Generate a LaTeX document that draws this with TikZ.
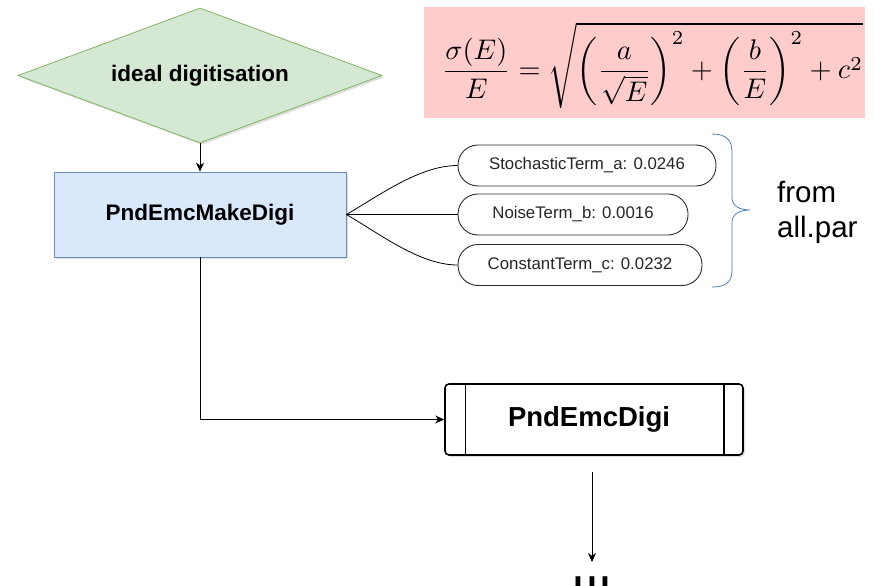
\documentclass[tikz,border=0pt]{standalone}
\usepackage[no-math]{fontspec}
\usepackage{graphicx}
\usepackage{amsmath}
\newfontfamily\lsans{Liberation Sans}
\usetikzlibrary{shapes.geometric,arrows.meta,shadows}
\definecolor{greenfill}{HTML}{D5E8D4}
\definecolor{greenline}{HTML}{82B366}
\definecolor{bluefill}{HTML}{DAE8FC}
\definecolor{blueline}{HTML}{6C8EBF}
\definecolor{pinkfill}{HTML}{FFCCCC}
\definecolor{bracec}{HTML}{4A7EBB}
\definecolor{pillline}{HTML}{2B2B2B}
\begin{document}
\begin{tikzpicture}[x=1pt,y=-1pt,
  shade/.style={drop shadow={opacity=0.25,shadow xshift=2pt,shadow yshift=-2pt}},
  decision/.style={diamond, shape aspect=2.7, minimum width=364pt, minimum height=135pt,
    inner sep=0pt, fill=greenfill, draw=greenline, line width=0.8pt, shade,
    font=\lsans\bfseries\fontsize{22.5}{26}\selectfont},
  procbox/.style={rectangle, minimum width=292pt, minimum height=85pt, fill=bluefill,
    draw=blueline, line width=0.8pt, shade, font=\lsans\bfseries\fontsize{22.5}{26}\selectfont},
  pill/.style={rectangle, rounded corners=20pt, minimum height=41pt, draw=pillline,
    line width=0.9pt, fill=white, text=black!85, font=\lsans\fontsize{16.8}{19}\selectfont},
  dataobj/.style={rectangle, rounded corners=4pt, minimum width=298pt, minimum height=71pt,
    draw=black, line width=1.6pt, fill=white, shade,
    font=\lsans\bfseries\fontsize{27.5}{32}\selectfont},
  conn/.style={draw=black, line width=0.8pt},
  arr/.style={conn, -{Stealth[length=9pt,width=8pt]}},
  bigtext/.style={font=\lsans\fontsize{29.5}{35}\selectfont, align=left, inner sep=0pt},
]
\useasboundingbox (0,0) rectangle (875,586);

% formula
\node[fill=pinkfill, minimum width=441pt, minimum height=111pt, inner sep=0pt] (formbg) at (644.5,62.5) {};
\node[inner sep=0pt] (formula) at (652.5,65.5)
  {\resizebox{421pt}{!}{$\displaystyle \frac{\sigma(E)}{E}=\sqrt{\left(\frac{a}{\sqrt{E}}\right)^{2}+\left(\frac{b}{E}\right)^{2}+c^{2}}$}};

% main flow
\node[decision] (ideal) at (200,75.5) {ideal digitisation};
\node[procbox] (make) at (200,214.5) {PndEmcMakeDigi};
\draw[arr] (ideal.south) -- (make.north);

% parameters
\node[pill, minimum width=258pt] (pa) at (587,165.5) {StochasticTerm\_a: 0.0246};
\node[pill, minimum width=230pt] (pb) at (573,214.5) {NoiseTerm\_b: 0.0016};
\node[pill, minimum width=244pt] (pc) at (580,265) {ConstantTerm\_c: 0.0232};
\draw[conn] (make.east) .. controls (380,195) and (420,165.5) .. (pa.west);
\draw[conn] (make.east) -- (pb.west);
\draw[conn] (make.east) .. controls (380,234) and (420,265) .. (pc.west);

% brace and source
\draw[bracec, line width=0.8pt] (712,134) .. controls (726,134) and (732,140) .. (732,152)
  -- (732,198) .. controls (732,206) and (740,210) .. (750,210)
  .. controls (740,210) and (732,214) .. (732,222)
  -- (732,270) .. controls (732,282) and (726,287) .. (712,287);
\node[bigtext, anchor=west] (src) at (777,212) {from\\all.par};

% output
\node[dataobj] (digi) at (594,419.5) {PndEmcDigi\hspace*{10pt}};
\draw[line width=1.4pt] ([xshift=21pt]digi.north west) -- ([xshift=21pt]digi.south west);
\draw[line width=1.4pt] ([xshift=-20pt]digi.north east) -- ([xshift=-20pt]digi.south east);
\draw[arr] (make.south) |- (digi.west);

\coordinate (tail) at (592,472);
\coordinate (tip) at (592,562);
\draw[arr, line width=0.7pt] (tail) -- (tip);
\node[font=\lsans\fontsize{50}{60}\selectfont, anchor=base, inner sep=0pt] (more) at (592,588) {\scalebox{1}[2.2]{...}};
\end{tikzpicture}
\end{document}
